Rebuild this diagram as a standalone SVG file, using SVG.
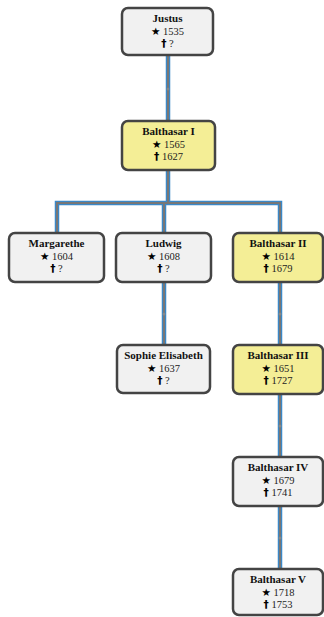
<svg xmlns="http://www.w3.org/2000/svg" width="324" height="617" viewBox="0 0 324 617">
<style>
.box{stroke:#444;stroke-width:2.5}
.g{fill:#f1f1f1}
.y{fill:#f4ee96}
.nm{font-family:"Liberation Serif","DejaVu Serif",serif;font-weight:bold;font-size:11px;fill:#111;text-anchor:middle}
.yr{font-family:"Liberation Serif","DejaVu Serif",serif;font-size:10.5px;fill:#222;text-anchor:middle}
.sym{font-family:"DejaVu Sans",sans-serif;font-weight:bold;font-size:10.5px;fill:#000}
.cb{fill:none;stroke:#3a88c8;stroke-width:4.5}
.cg{fill:none;stroke:#777;stroke-width:2}
.dot{fill:#888}
</style>
<rect width="324" height="617" fill="#fff"/>
<g id="connectors">
<path class="cb" d="M168 55 V121 M168 170 V203 M57 233 V203 H280 V233 M164 203 V233 M164 282 V345 M280 282 V345 M280 394 V457 M280 506 V569"/>
<path class="cg" d="M168 55 V121 M168 170 V203 M57 233 V203 H280 V233 M164 203 V233 M164 282 V345 M280 282 V345 M280 394 V457 M280 506 V569"/>
<circle class="dot" cx="168" cy="89" r="1.5"/>
<circle class="dot" cx="164" cy="314" r="1.5"/>
<circle class="dot" cx="280" cy="314" r="1.5"/>
<circle class="dot" cx="280" cy="426" r="1.5"/>
<circle class="dot" cx="280" cy="538" r="1.5"/>
</g>
<g id="justus">
<rect class="box g" x="122" y="8" width="91" height="47" rx="6"/>
<text class="nm" x="167.5" y="22">Justus</text>
<text class="yr" x="167.5" y="35"><tspan class="sym">★</tspan> 1535</text>
<text class="yr" x="167.5" y="47"><tspan class="sym">†</tspan> ?</text>
</g>
<g id="balthasar1">
<rect class="box y" x="122" y="121" width="93" height="49" rx="6"/>
<text class="nm" x="168.5" y="135">Balthasar I</text>
<text class="yr" x="168.5" y="148"><tspan class="sym">★</tspan> 1565</text>
<text class="yr" x="168.5" y="160"><tspan class="sym">†</tspan> 1627</text>
</g>
<g id="margarethe">
<rect class="box g" x="9" y="233" width="95" height="49" rx="6"/>
<text class="nm" x="56.5" y="247">Margarethe</text>
<text class="yr" x="56.5" y="260"><tspan class="sym">★</tspan> 1604</text>
<text class="yr" x="56.5" y="272"><tspan class="sym">†</tspan> ?</text>
</g>
<g id="ludwig">
<rect class="box g" x="116" y="233" width="95" height="49" rx="6"/>
<text class="nm" x="163.5" y="247">Ludwig</text>
<text class="yr" x="163.5" y="260"><tspan class="sym">★</tspan> 1608</text>
<text class="yr" x="163.5" y="272"><tspan class="sym">†</tspan> ?</text>
</g>
<g id="balthasar2">
<rect class="box y" x="233" y="233" width="90" height="49" rx="6"/>
<text class="nm" x="278" y="247">Balthasar II</text>
<text class="yr" x="278" y="260"><tspan class="sym">★</tspan> 1614</text>
<text class="yr" x="278" y="272"><tspan class="sym">†</tspan> 1679</text>
</g>
<g id="sophie">
<rect class="box g" x="117" y="345" width="93" height="48" rx="6"/>
<text class="nm" x="163.5" y="359" font-size="10">Sophie Elisabeth</text>
<text class="yr" x="163.5" y="372"><tspan class="sym">★</tspan> 1637</text>
<text class="yr" x="163.5" y="384"><tspan class="sym">†</tspan> ?</text>
</g>
<g id="balthasar3">
<rect class="box y" x="233" y="345" width="90" height="49" rx="6"/>
<text class="nm" x="278" y="359">Balthasar III</text>
<text class="yr" x="278" y="372"><tspan class="sym">★</tspan> 1651</text>
<text class="yr" x="278" y="384"><tspan class="sym">†</tspan> 1727</text>
</g>
<g id="balthasar4">
<rect class="box g" x="233" y="457" width="90" height="49" rx="6"/>
<text class="nm" x="278" y="471">Balthasar IV</text>
<text class="yr" x="278" y="484"><tspan class="sym">★</tspan> 1679</text>
<text class="yr" x="278" y="496"><tspan class="sym">†</tspan> 1741</text>
</g>
<g id="balthasar5">
<rect class="box g" x="233" y="569" width="90" height="46" rx="6"/>
<text class="nm" x="278" y="583">Balthasar V</text>
<text class="yr" x="278" y="596"><tspan class="sym">★</tspan> 1718</text>
<text class="yr" x="278" y="608"><tspan class="sym">†</tspan> 1753</text>
</g>
</svg>
